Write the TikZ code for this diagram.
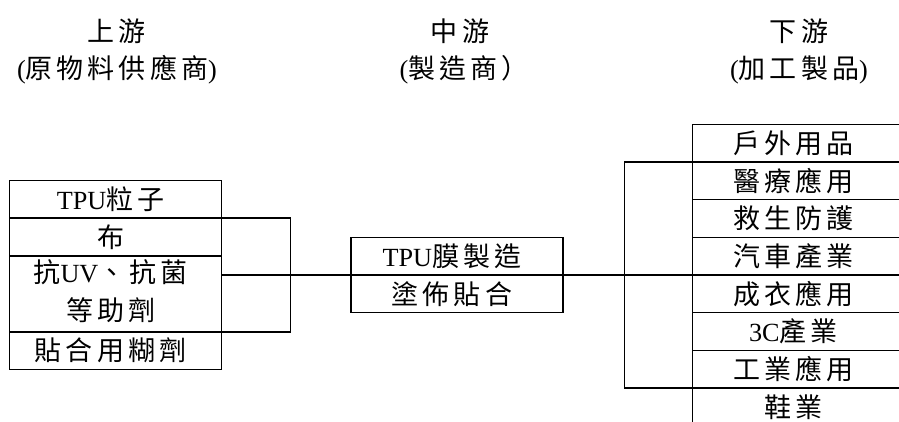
\documentclass[tikz,border=0pt]{standalone}
\usepackage{fontspec}
\setmainfont{Noto Sans CJK TC}[LetterSpace=15]
\newfontfamily\latfont{Liberation Serif}[Scale=0.97]
\newcommand{\lat}[1]{{\latfont #1}}
\usepackage{tikz}
\usetikzlibrary{matrix,positioning}

\tikzset{
  tier/.style={matrix of nodes, inner sep=0pt, outer sep=0pt, row sep=-1.4pt,
    nodes={draw, line width=1.4pt, minimum width=212pt, minimum height=37.7pt,
      inner sep=0pt, outer sep=0pt, align=center, font=\fontsize{27}{38}\selectfont}},
  stage/.style={font=\fontsize{27}{30}\selectfont, inner sep=0pt}
}

\begin{document}
\begin{tikzpicture}[x=1pt, y=1pt, line width=1.4pt]
  \useasboundingbox (0,0) rectangle (899,421);
  % headers
  \node [stage] (up-title)   at (117,390) {上游};
  \node [stage] (up-sub)     at (117,351) {\lat{(}原物料供應商\lat{)}};
  \node [stage] (mid-title)  at (460,390) {中游};
  \node [stage] (mid-sub)    at (464,351) {\lat{(}製造商）};
  \node [stage] (down-title) at (799,390) {下游};
  \node [stage] (down-sub)   at (799,351) {\lat{(}加工製品\lat{)}};
  % chain
  \matrix (mid) [tier] at (457,146)
  {
\lat{TPU}膜製造 \\
塗佈貼合 \\
};
  \matrix (up) [tier, left=128pt of mid]
  {
\lat{TPU}粒子 \\
布 \\
|[minimum height=75.4pt]| \begin{tabular}{@{}c@{}}抗\lat{UV}、抗菌\\等助劑\end{tabular} \\
貼合用糊劑 \\
};
  \matrix (down) [tier, right=128pt of mid]
  {
戶外用品 \\
醫療應用 \\
救生防護 \\
汽車產業 \\
成衣應用 \\
\lat{3C}產業 \\
工業應用 \\
鞋業 \\
};
  \draw (up) -- (mid);
  \draw (mid) -- (down);
  \draw (up-2-1.north east) -- ++(69,0) |- (up-3-1.south east);
  \draw (down-2-1.north west) -- ++(-68,0) |- (down-7-1.south west);
\end{tikzpicture}
\end{document}
